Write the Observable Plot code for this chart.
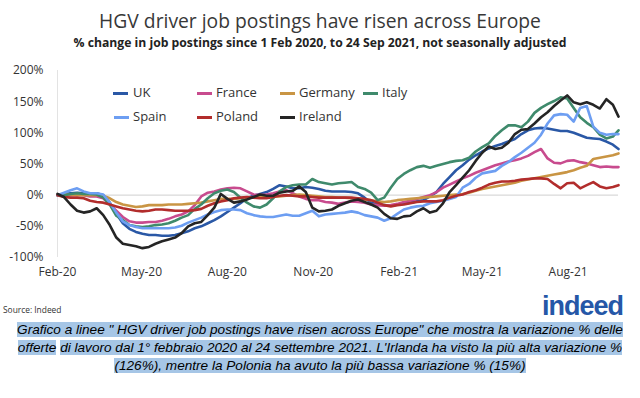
<!DOCTYPE html>
<html>
<head>
<meta charset="utf-8">
<script src="https://cdn.jsdelivr.net/npm/d3@7"></script>
<script src="https://cdn.jsdelivr.net/npm/@observablehq/plot@0.6"></script>
<style>
  html, body { margin: 0; padding: 0; background: #fff; }
  #page { position: relative; width: 640px; height: 398px; overflow: hidden; font-family: "Open Sans", sans-serif; }
  #title { position: absolute; left: 0; width: 640px; top: 10px; text-align: center; font-size: 19.3px; line-height: 22px; color: #383838; }
  #subtitle { position: absolute; left: 0; width: 640px; top: 36px; text-align: center; font-size: 12.2px; line-height: 14px; font-weight: 700; color: #222; }
  #chart { position: absolute; left: 0; top: 55px; }
  .leg { position: absolute; font-size: 13px; line-height: 16px; color: #333; white-space: nowrap; }
  .sw { position: absolute; width: 15px; height: 3px; }
  #source { position: absolute; left: 3px; top: 304px; font-size: 8.4px; line-height: 11px; color: #333; }
  #logo { position: absolute; left: 542px; top: 291px; font-family: "Liberation Sans", Arial, sans-serif; font-weight: 700; font-size: 27px; letter-spacing: -1px; color: #2557a7; }
  #caption { position: absolute; left: 0; width: 640px; top: 321px; text-align: center; font-family: "Liberation Sans", Arial, sans-serif; font-style: italic; font-size: 13.6px; line-height: 18px; color: #000; white-space: nowrap; }
  #caption span { background: #a6c6e6; }
</style>
</head>
<body>
<div id="page">
  <div id="title">HGV driver job postings have risen across Europe</div>
  <div id="subtitle">% change in job postings since 1 Feb 2020, to 24 Sep 2021, not seasonally adjusted</div>
  <div id="chart"></div>
  <div id="legend"></div>
  <div id="source">Source: Indeed</div>
  <div id="logo">indeed</div>
  <div id="caption"><span>Grafico a linee " HGV driver job postings have risen across Europe" che mostra la variazione % delle</span><br><span>offerte</span> <span>di lavoro dal 1° febbraio 2020 al 24 settembre 2021. L'Irlanda ha visto la più alta variazione %</span><br><span>(126%), mentre la Polonia ha avuto la più bassa variazione % (15%)</span></div>
</div>
<script>
const dates = [
  "2020-02-01","2020-02-08","2020-02-15","2020-02-22","2020-02-29","2020-03-07","2020-03-14","2020-03-21","2020-03-28","2020-04-04",
  "2020-04-11","2020-04-18","2020-04-25","2020-05-02","2020-05-09","2020-05-16","2020-05-23","2020-05-30","2020-06-06","2020-06-13",
  "2020-06-20","2020-06-27","2020-07-04","2020-07-11","2020-07-18","2020-07-25","2020-08-01","2020-08-08","2020-08-15","2020-08-22",
  "2020-08-29","2020-09-05","2020-09-12","2020-09-19","2020-09-26","2020-10-03","2020-10-10","2020-10-17","2020-10-24","2020-10-31",
  "2020-11-07","2020-11-14","2020-11-21","2020-11-28","2020-12-05","2020-12-12","2020-12-19","2020-12-26","2021-01-02","2021-01-09",
  "2021-01-16","2021-01-23","2021-01-30","2021-02-06","2021-02-13","2021-02-20","2021-02-27","2021-03-06","2021-03-13","2021-03-20",
  "2021-03-27","2021-04-03","2021-04-10","2021-04-17","2021-04-24","2021-05-01","2021-05-08","2021-05-15","2021-05-22","2021-05-29",
  "2021-06-05","2021-06-12","2021-06-19","2021-06-26","2021-07-03","2021-07-10","2021-07-17","2021-07-24","2021-07-31","2021-08-07",
  "2021-08-14","2021-08-21","2021-08-28","2021-09-04","2021-09-11","2021-09-18","2021-09-24"
];

const uk = [0,2,3,4,3,3,3,0,-12,-30,
  -45,-54,-59,-62,-64,-64,-65,-65,-64,-61,
  -58,-53,-50,-45,-40,-34,-27,-20,-13,-5,
  -1,2,5,10,16,14,11,11,13,12,
  10,7,6,6,6,5,3,-4,-12,-15,
  -16,-17,-15,-13,-12,-10,-8,-2,5,18,
  29,40,48,57,64,70,75,79,82,86,
  90,98,104,107,108,107,105,103,103,100,
  96,92,91,90,86,81,74];

const france = [0,-1,0,1,0,-2,-2,-5,-15,-25,
  -35,-42,-44,-44,-43,-43,-41,-38,-34,-31,
  -26,-16,-2,4,6,9,11,12,11,6,
  1,0,1,3,6,8,3,-2,-6,-8,
  -8,-11,-12,-14,-12,-10,-11,-12,-15,-16,
  -17,-16,-14,-11,-9,-6,-3,0,5,12,
  17,22,27,31,36,40,44,48,51,54,
  56,59,63,69,74,59,52,51,55,56,
  53,51,48,45,46,45,45];

const germany = [0,1,1,0,0,0,0,-1,-5,-11,
  -15,-17,-19,-18,-16,-16,-16,-15,-15,-15,
  -14,-13,-12,-10,-8,-6,-6,-6,-5,-4,
  -4,-3,-3,-2,-2,-1,0,1,0,-1,
  -2,-3,-3,-4,-4,-5,-6,-7,-8,-10,
  -11,-10,-8,-7,-6,-5,-4,-3,-2,-1,
  0,1,2,4,7,10,12,14,16,18,
  20,23,25,27,29,31,33,35,37,40,
  44,47,58,60,62,64,67];

const italy = [0,0,2,3,2,2,1,-4,-15,-33,
  -40,-48,-50,-51,-50,-48,-47,-45,-41,-36,
  -32,-22,-15,-5,3,7,9,5,-4,-12,
  -18,-20,-15,-5,6,13,16,17,17,26,
  21,19,17,19,20,21,13,10,4,-8,
  -4,12,26,34,40,45,47,44,47,50,
  53,55,56,60,70,77,83,95,104,112,
  112,109,118,132,140,146,151,157,155,140,
  125,116,109,97,91,94,104];

const spain = [0,4,8,11,6,3,3,1,-12,-28,
  -42,-48,-51,-53,-53,-53,-53,-53,-52,-49,
  -44,-40,-36,-31,-27,-24,-23,-23,-24,-29,
  -32,-34,-35,-35,-33,-31,-33,-33,-29,-25,
  -34,-31,-30,-29,-28,-26,-28,-32,-34,-36,
  -41,-37,-30,-23,-20,-18,-17,-13,-11,-9,
  -6,-3,12,18,28,35,37,39,47,53,
  61,68,76,84,97,115,128,130,129,118,
  140,143,110,100,97,98,98];

const poland = [0,-3,-4,-4,-5,-9,-11,-12,-15,-18,
  -21,-23,-25,-26,-25,-23,-23,-24,-25,-25,
  -25,-24,-22,-17,-13,-10,-8,-5,-4,-3,
  -4,-5,-5,-3,-1,0,-1,-2,-2,-3,
  -4,-4,-4,-4,-4,-4,-5,-6,-8,-12,
  -16,-18,-16,-15,-13,-11,-10,-10,-10,-8,
  -4,-1,1,5,8,12,17,20,22,22,
  23,25,26,27,27,26,18,11,19,20,
  11,16,21,14,11,13,16];

const ireland = [2,-3,-15,-25,-28,-26,-21,-32,-48,-68,
  -78,-80,-82,-85,-83,-78,-74,-71,-68,-61,
  -50,-45,-43,-32,-20,2,-6,-12,-10,-7,
  -3,1,-1,-1,4,6,7,14,5,-20,
  -26,-25,-23,-17,-13,-9,-7,-11,-15,-20,
  -30,-37,-38,-34,-33,-26,-21,-28,-25,-13,
  5,16,28,40,55,68,78,74,76,84,
  98,105,106,115,125,133,143,152,160,149,
  146,149,145,139,154,145,126];

const countries = ["UK","France","Germany","Italy","Spain","Poland","Ireland"];
const colors = ["#2a58a6","#c84b8e","#c99544","#3f8a6c","#6d9ef2","#b22d2c","#252525"];
const series = [uk, france, germany, italy, spain, poland, ireland];
const xTicks = ["2020-02-01","2020-05-01","2020-08-01","2020-11-01","2021-02-01","2021-05-01","2021-08-01"];
const yTicks = [-100,-50,0,50,100,150,200];

const parse = d3.utcParse("%Y-%m-%d");
const rows = [];
series.forEach((vals, i) => vals.forEach((v, j) => rows.push({country: countries[i], date: parse(dates[j]), value: v})));

const x0 = parse(dates[0]);
const x1 = parse(dates[dates.length - 1]);

const chart = Plot.plot({
  width: 640,
  height: 230,
  marginTop: 15,
  marginBottom: 28,
  marginLeft: 57,
  marginRight: 22,
  style: {fontFamily: "Open Sans, sans-serif", fontSize: "12px", color: "#333", background: "transparent"},
  x: {type: "utc", domain: [x0, x1]},
  y: {domain: [-100, 200]},
  color: {domain: countries, range: colors},
  marks: [
    Plot.ruleX([x0], {y1: -100, y2: 200, stroke: "#e3e3e3", strokeWidth: 1}),
    Plot.ruleY([0], {stroke: "#d9d9d9", strokeWidth: 1.2}),
    Plot.axisY({ticks: yTicks, tickFormat: d => d + "%", tickSize: 0, tickPadding: 14, fontSize: 12, label: null}),
    Plot.axisX({ticks: xTicks.map(parse), tickFormat: d3.utcFormat("%b-%y"), tickSize: 0, tickPadding: 10, fontSize: 12, label: null}),
    Plot.line(rows, {x: "date", y: "value", z: "country", stroke: "country", strokeWidth: 2.6, strokeLinejoin: "round", strokeLinecap: "round"})
  ]
});
document.getElementById("chart").appendChild(chart);

// legend
const legPos = [
  {sx: 113, tx: 133, y: 93}, {sx: 197, tx: 216, y: 93}, {sx: 280, tx: 299, y: 93}, {sx: 363, tx: 382, y: 93},
  {sx: 114, tx: 133, y: 117}, {sx: 197, tx: 216, y: 117}, {sx: 280, tx: 299, y: 117}
];
const legOrder = ["UK","France","Germany","Italy","Spain","Poland","Ireland"];
const leg = document.getElementById("legend");
legOrder.forEach((c, i) => {
  const p = legPos[i];
  const sw = document.createElement("div");
  sw.className = "sw";
  sw.style.left = p.sx + "px";
  sw.style.top = (p.y - 1.5) + "px";
  sw.style.background = colors[countries.indexOf(c)];
  leg.appendChild(sw);
  const t = document.createElement("div");
  t.className = "leg";
  t.style.left = p.tx + "px";
  t.style.top = (p.y - 9) + "px";
  t.textContent = c;
  leg.appendChild(t);
});
</script>
</body>
</html>
